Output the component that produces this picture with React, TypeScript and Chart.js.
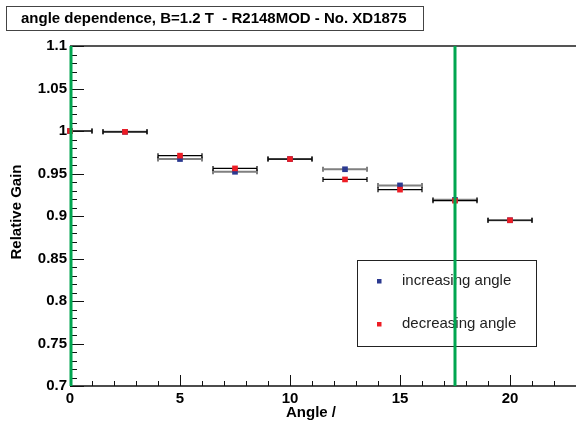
import React, { useEffect, useRef } from "react";
import { Chart, registerables } from "chart.js";

Chart.register(...registerables);

const ANGLES = [0, 2.5, 5, 7.5, 10, 12.5, 15, 17.5, 20];
const ANGLE_ERR = [1, 1, 1, 1, 1, 1, 1, 1, 1];
const INCREASING = [1.0, 0.999, 0.967, 0.952, 0.967, 0.955, 0.936, 0.919, 0.895];
const DECREASING = [1.0, 0.999, 0.971, 0.956, 0.967, 0.943, 0.931, 0.918, 0.895];
const X_TICKS = [0, 5, 10, 15, 20];
const Y_TICKS = [0.7, 0.75, 0.8, 0.85, 0.9, 0.95, 1.0, 1.05, 1.1];
const MARKER_LINES = [0, 17.5];
const TITLE = "angle dependence, B=1.2 T  - R2148MOD - No. XD1875";
const LEGEND_LABELS = ["increasing angle", "decreasing angle"];
const X_TITLE = "Angle /";
const Y_TITLE = "Relative Gain";

const BLUE = "#2b3990";
const RED = "#ed1c24";
const GREEN = "#00a650";
const FONT = "'Liberation Sans', Arial, Helvetica, sans-serif";

const rootPlugin = {
  id: "rootStyle",
  beforeDatasetsDraw(chart: any) {
    const { ctx, chartArea: a, scales } = chart;
    const x = scales.x;
    const y = scales.y;
    ctx.save();
    // error bars (clipped)
    ctx.save();
    ctx.beginPath();
    ctx.rect(a.left, a.top, a.right - a.left, a.bottom - a.top);
    ctx.clip();
    const order = [0, 1];
    order.forEach((di) => {
      const ds = chart.data.datasets[di];
      ctx.strokeStyle = di === 0 ? "#808080" : "#000000";
      ctx.lineWidth = di === 0 ? 2 : 1.2;
      ds.data.forEach((p: any, i: number) => {
        const err = ANGLE_ERR[i];
        const x1 = x.getPixelForValue(p.x - err);
        const x2 = x.getPixelForValue(p.x + err);
        const py = y.getPixelForValue(p.y);
        ctx.beginPath();
        ctx.moveTo(x1, py);
        ctx.lineTo(x2, py);
        ctx.moveTo(x1, py - 2.5);
        ctx.lineTo(x1, py + 2.5);
        ctx.moveTo(x2, py - 2.5);
        ctx.lineTo(x2, py + 2.5);
        ctx.stroke();
      });
    });
    ctx.restore();

    // axis lines
    ctx.strokeStyle = "#555";
    ctx.lineWidth = 2;
    ctx.beginPath();
    ctx.moveTo(a.left, a.top);
    ctx.lineTo(a.right, a.top);
    ctx.stroke();
    ctx.strokeStyle = "#111";
    ctx.lineWidth = 1.5;
    ctx.beginPath();
    ctx.moveTo(a.left, a.bottom);
    ctx.lineTo(a.right, a.bottom);
    ctx.stroke();

    // ticks
    ctx.lineWidth = 1;
    ctx.strokeStyle = "#111";
    ctx.beginPath();
    for (let k = 0; k <= 40; k++) {
      const v = 0.7 + k * 0.01;
      const py = Math.round(y.getPixelForValue(v)) + 0.5;
      const len = k % 5 === 0 ? 14 : 7;
      ctx.moveTo(a.left, py);
      ctx.lineTo(a.left + len, py);
    }
    for (let k = 0; k <= Math.floor(x.max); k++) {
      const px = Math.round(x.getPixelForValue(k)) + 0.5;
      const len = k % 5 === 0 ? 11 : 5;
      ctx.moveTo(px, a.bottom);
      ctx.lineTo(px, a.bottom - len);
    }
    ctx.stroke();
    ctx.restore();
  },
  afterDatasetsDraw(chart: any) {
    const { ctx, chartArea: a, scales } = chart;
    const x = scales.x;
    ctx.save();
    // legend
    const lx = 357, ly = 260, lw = 179, lh = 86;
    ctx.fillStyle = "#fff";
    ctx.fillRect(lx, ly, lw, lh);
    ctx.strokeStyle = "#222";
    ctx.lineWidth = 1;
    ctx.strokeRect(lx + 0.5, ly + 0.5, lw, lh);
    const rows = [281, 324];
    const cols = [BLUE, RED];
    ctx.font = `15px ${FONT}`;
    ctx.textBaseline = "middle";
    ctx.textAlign = "left";
    LEGEND_LABELS.forEach((lab, i) => {
      ctx.fillStyle = cols[i];
      ctx.fillRect(377, rows[i] - 2, 4.5, 4.5);
      ctx.fillStyle = "#222";
      ctx.fillText(lab, 402, rows[i]);
    });
    // green lines
    ctx.strokeStyle = GREEN;
    ctx.lineWidth = 3;
    MARKER_LINES.forEach((v) => {
      const px = x.getPixelForValue(v) + (v === 0 ? 1 : 0);
      ctx.beginPath();
      ctx.moveTo(px, a.top);
      ctx.lineTo(px, a.bottom);
      ctx.stroke();
    });
    ctx.restore();
  },
  afterDraw(chart: any) {
    const { ctx, chartArea: a } = chart;
    ctx.save();
    // title box
    ctx.fillStyle = "#fff";
    ctx.fillRect(6, 6, 417, 24);
    ctx.strokeStyle = "#444";
    ctx.lineWidth = 1;
    ctx.strokeRect(6.5, 6.5, 417, 24);
    ctx.fillStyle = "#000";
    ctx.font = `bold 15px ${FONT}`;
    ctx.textBaseline = "middle";
    ctx.textAlign = "left";
    ctx.fillText(TITLE, 21, 19);
    // axis titles
    ctx.font = `bold 15px ${FONT}`;
    ctx.textAlign = "center";
    ctx.fillText(X_TITLE, 311, 413);
    ctx.translate(17, (a.top + a.bottom) / 2 - 4);
    ctx.rotate(-Math.PI / 2);
    ctx.fillText(Y_TITLE, 0, 0);
    ctx.restore();
  },
};

export default function App() {
  const ref = useRef<HTMLCanvasElement | null>(null);
  useEffect(() => {
    if (!ref.current) return;
    const chart = new Chart(ref.current, {
      type: "scatter",
      data: {
        datasets: [
          {
            label: LEGEND_LABELS[0],
            data: ANGLES.map((a, i) => ({ x: a, y: INCREASING[i] })),
            backgroundColor: BLUE,
            borderColor: BLUE,
            pointStyle: "rect",
            pointRadius: 4,
            pointBorderWidth: 0,
            order: 1,
            clip: false as any,
          },
          {
            label: LEGEND_LABELS[1],
            data: ANGLES.map((a, i) => ({ x: a, y: DECREASING[i] })),
            backgroundColor: RED,
            borderColor: RED,
            pointStyle: "rect",
            pointRadius: 4,
            pointBorderWidth: 0,
            order: 0,
            clip: false as any,
          },
        ],
      },
      options: {
        responsive: false,
        animation: false,
        devicePixelRatio: 1,
        layout: { autoPadding: false, padding: { top: 46, left: 0, right: 0, bottom: 0 } },
        plugins: {
          legend: { display: false },
          title: { display: false },
          tooltip: { enabled: false },
        },
        scales: {
          x: {
            type: "linear",
            min: 0,
            max: 23,
            grid: { display: false, drawTicks: false },
            border: { display: false },
            afterBuildTicks: (s: any) => {
              s.ticks = X_TICKS.map((v) => ({ value: v }));
            },
            afterFit: (s: any) => {
              s.height = 37;
            },
            ticks: {
              color: "#000",
              padding: 4,
              maxRotation: 0,
              autoSkip: false,
              font: { family: FONT, size: 15, weight: "bold" },
              callback: (v: any) => String(v),
            },
          },
          y: {
            type: "linear",
            min: 0.7,
            max: 1.1,
            grid: { display: false, drawTicks: false },
            border: { display: false },
            afterBuildTicks: (s: any) => {
              s.ticks = Y_TICKS.map((v) => ({ value: v }));
            },
            afterFit: (s: any) => {
              s.width = 70;
            },
            ticks: {
              color: "#000",
              padding: 3,
              autoSkip: false,
              font: { family: FONT, size: 15, weight: "bold" },
              callback: (v: any) => String(parseFloat(Number(v).toFixed(2))),
            },
          },
        },
      },
      plugins: [rootPlugin],
    });
    return () => chart.destroy();
  }, []);
  return (
    <div style={{ position: "absolute", left: 0, top: 0, width: 576, height: 423, background: "#fff" }}>
      <canvas ref={ref} width={576} height={423} style={{ display: "block" }} />
    </div>
  );
}
